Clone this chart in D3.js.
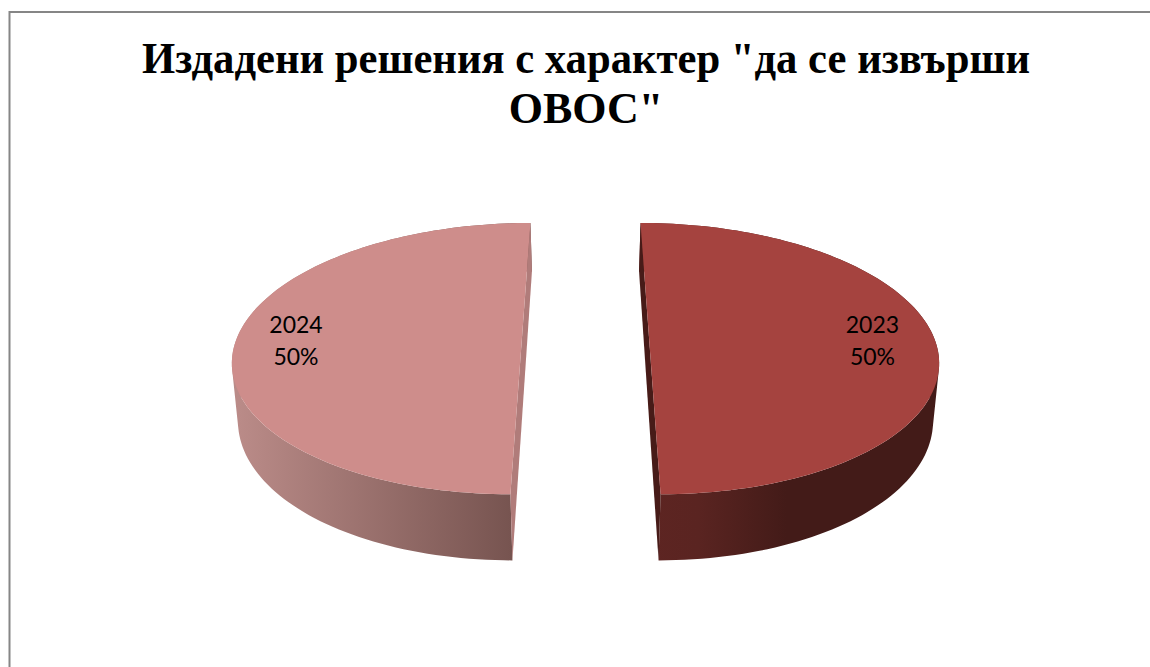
<!DOCTYPE html>
<html>
<head>
<meta charset="utf-8">
<script src="https://cdn.jsdelivr.net/npm/d3@7"></script>
<style>
  html, body { margin: 0; padding: 0; background: #fff; overflow: hidden; }
  svg { display: block; }
</style>
</head>
<body>
<script>
// Chart data
var titleLines = ["Издадени решения с характер \"да се извърши", "ОВОС\""];
var categories = ["2023", "2024"];
var values = [50, 50];
var percentLabels = ["50%", "50%"];

// Colours per slice: top face, cut wall, side gradient stops
var topColors = ["#a5433f", "#ce8d8b"];
var wallColors = ["#471b18", "#b07c7a"];
var sideStops = [
  [[0, "#5e2522"], [0.2, "#5a2421"], [0.5, "#431b18"], [1, "#431b18"]],
  [[0, "#ba8b88"], [1, "#72504c"]]
];

var width = 1150;
var height = 667;

var svg = d3.select("body")
            .append("svg")
            .attr("width", width)
            .attr("height", height);

// Chart frame, runs off the right and bottom of the picture
svg.append("rect")
   .attr("x", 9.5)
   .attr("y", 12)
   .attr("width", width + 20)
   .attr("height", height + 20)
   .attr("fill", "#fff")
   .attr("stroke", "#868686")
   .attr("stroke-width", 2);

// Title
svg.selectAll(".title")
   .data(titleLines)
   .enter()
   .append("text")
   .attr("class", "title")
   .attr("x", 586)
   .attr("y", function(d, i) { return 73 + i * 49.5; })
   .attr("text-anchor", "middle")
   .attr("font-family", "Liberation Serif")
   .attr("font-weight", "bold")
   .attr("font-size", 44)
   .attr("fill", "#000")
   .attr("textLength", function(d, i) { return i === 0 ? 888 : null; })
   .attr("lengthAdjust", "spacingAndGlyphs")
   .text(function(d) { return d; });

// Perspective projection of the pie disc
var cx = 585.5, cy = 337.7;
var R = 285, ry = 132.4, explode = 63.5, k = 0.154;
var depth = 56, shrinkRim = 0.985, shrinkCut = 0.973;

function project(angle, r, lower) {
  var u = Math.sin(angle) * r, v = -Math.cos(angle) * r;
  var f = 1 / (1 - k * v);
  var side = angle < Math.PI ? 1 : -1;
  var x = (u * R * (lower ? shrinkRim : 1) + side * explode * (lower ? shrinkCut : 1)) * f;
  var y = cy + ry * v * f + (lower ? depth * f : 0);
  return [cx + x, y];
}

var pie = d3.pie().sort(null);
var slices = pie(values);

// Walks along the outer rim of a slice
function rim(d, lower) {
  var step = d3.scaleLinear().domain([0, 120]).range([d.startAngle + 1e-4, d.endAngle - 1e-4]);
  return d3.range(121).map(function(i) { return project(step(i), 1, lower); });
}

var line = d3.line();

var defs = svg.append("defs");
slices.forEach(function(d, i) {
  var xs = d3.extent(rim(d, true), function(p) { return p[0]; });
  var grad = defs.append("linearGradient")
     .attr("id", "side" + i)
     .attr("gradientUnits", "userSpaceOnUse")
     .attr("x1", xs[0])
     .attr("x2", xs[1])
     .attr("y1", 0)
     .attr("y2", 0);
  grad.selectAll("stop")
     .data(sideStops[i])
     .enter()
     .append("stop")
     .attr("offset", function(s) { return s[0]; })
     .attr("stop-color", function(s) { return s[1]; });
});

var slice = svg.selectAll(".slice")
   .data(slices)
   .enter()
   .append("g")
   .attr("class", "slice");

// Outer side, one quad per rim step so the silhouette stays closed
slice.append("path")
   .attr("fill", function(d, i) { return "url(#side" + i + ")"; })
   .attr("d", function(d) {
     var t = rim(d, false), b = rim(d, true);
     return d3.range(t.length - 1).map(function(j) {
       var q = [t[j], t[j + 1], b[j + 1], b[j]];
       // keep the winding the same for every quad
       return line(d3.polygonArea(q) < 0 ? q.reverse() : q) + "Z";
     }).join("");
   });

// Cut wall facing the gap
slice.append("path")
   .attr("fill", function(d, i) { return wallColors[i]; })
   .attr("d", function(d) {
     var t = rim(d, false), b = rim(d, true);
     return line([t[0], b[0], b[b.length - 1], t[t.length - 1]]) + "Z";
   });

// Top face
slice.append("path")
   .attr("fill", function(d, i) { return topColors[i]; })
   .attr("d", function(d) { return line(rim(d, false)) + "Z"; });

// Labels
var labelRadius = [0.784, 0.793];
slice.each(function(d, i) {
  var p = project((d.startAngle + d.endAngle) / 2, labelRadius[i], false);
  var g = d3.select(this);
  [categories[i], percentLabels[i]].forEach(function(t, j) {
    g.append("text")
     .attr("x", p[0])
     .attr("y", 333 + j * 32)
     .attr("text-anchor", "middle")
     .attr("font-family", "Lato")
     .attr("font-size", 23)
     .attr("fill", "#000")
     .text(t);
  });
});
</script>
</body>
</html>
